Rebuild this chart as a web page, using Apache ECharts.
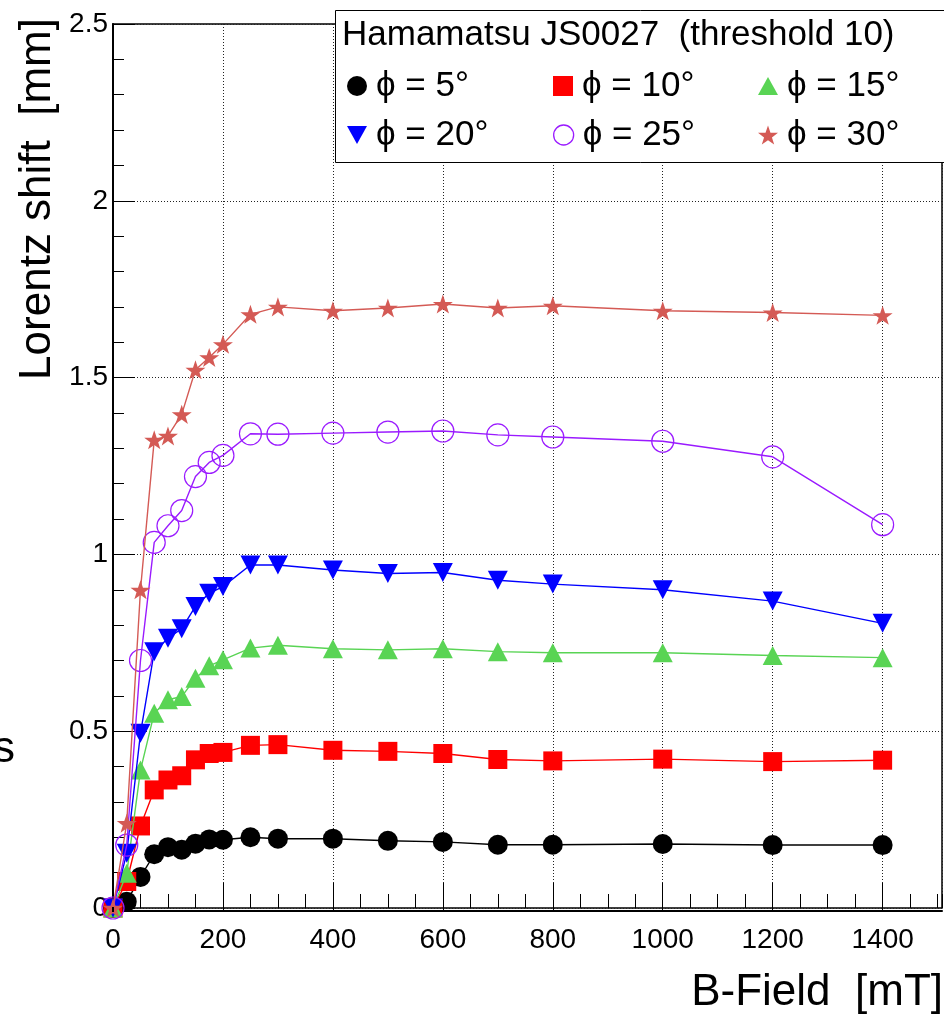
<!DOCTYPE html>
<html><head><meta charset="utf-8">
<script src="https://cdn.jsdelivr.net/npm/echarts@6/dist/echarts.min.js"></script>
<style>html,body{margin:0;padding:0;background:#fff}#c{width:944px;height:1015px}</style>
</head><body><div id="c"></div>
<script>
// B-Field [mT]
const bField = [0, 25, 50, 75, 100, 125, 150, 175, 200, 250, 300, 400, 500, 600, 700, 800, 1000, 1200, 1400];
// Lorentz shift [mm] for each angle
const phi5  = [0, 0.018, 0.088, 0.152, 0.172, 0.165, 0.182, 0.194, 0.193, 0.200, 0.196, 0.196, 0.190, 0.187, 0.179, 0.179, 0.181, 0.178, 0.178];
const phi10 = [0, 0.075, 0.232, 0.334, 0.362, 0.374, 0.419, 0.437, 0.440, 0.460, 0.462, 0.446, 0.443, 0.437, 0.420, 0.416, 0.421, 0.414, 0.418];
const phi15 = [0, 0.098, 0.390, 0.551, 0.589, 0.598, 0.650, 0.685, 0.702, 0.735, 0.743, 0.733, 0.730, 0.733, 0.725, 0.722, 0.722, 0.714, 0.708];
const phi20 = [0, 0.155, 0.494, 0.725, 0.763, 0.790, 0.853, 0.890, 0.909, 0.970, 0.970, 0.956, 0.946, 0.949, 0.927, 0.916, 0.900, 0.868, 0.805];
const phi25 = [0, 0.178, 0.700, 1.034, 1.081, 1.124, 1.220, 1.260, 1.280, 1.341, 1.340, 1.343, 1.346, 1.349, 1.338, 1.332, 1.320, 1.276, 1.084];
const phi30 = [0, 0.240, 0.900, 1.324, 1.335, 1.396, 1.522, 1.557, 1.594, 1.679, 1.700, 1.689, 1.697, 1.708, 1.697, 1.703, 1.689, 1.684, 1.676];
const seriesNames = ['\u03d5 = 5\u00b0', '\u03d5 = 10\u00b0', '\u03d5 = 15\u00b0', '\u03d5 = 20\u00b0', '\u03d5 = 25\u00b0', '\u03d5 = 30\u00b0'];
const titleText = 'Hamamatsu JS0027  (threshold 10)';
const xTitle = 'B-Field  [mT]';
const yTitle = 'Lorentz shift  [mm]';

const FONT = "'Liberation Sans', Arial, Helvetica, 'DejaVu Sans', sans-serif";
const STAR = 'path://M50,0 L61.8,35.1 L97.6,35.1 L68.8,56.7 L79.4,90.5 L50,69.8 L20.6,90.5 L31.2,56.7 L2.4,35.1 L38.2,35.1 Z';
const TDOWN = 'path://M0,0 L10,0 L5,9 Z';
const TUP = 'path://M5,0 L10,9 L0,9 Z';
const values = [phi5, phi10, phi15, phi20, phi25, phi30];
const colors = ['#000000', '#ff0000', '#59d454', '#0000ff', '#9a1aff', '#d45a55'];
const symbols = ['circle', 'rect', TUP, TDOWN, 'circle', STAR];
const sizes = [20, 19, [20, 19], [20, 19], 22, 20];

function pairs(v) { return bField.map((b, i) => [b, v[i]]); }

const series = values.map((v, k) => {
  const hollow = k === 4;
  return {
    name: seriesNames[k], type: 'line', data: pairs(v),
    xAxisIndex: 0, yAxisIndex: 0,
    symbol: symbols[k], symbolSize: sizes[k], symbolKeepAspect: k === 5,
    showSymbol: true, showAllSymbol: true,
    lineStyle: { color: colors[k], width: 1.4 },
    itemStyle: hollow ? { color: 'rgba(0,0,0,0)', borderColor: colors[k], borderWidth: 1.2 }
                      : { color: colors[k], borderWidth: 0 },
    emphasis: { disabled: true }, z: 2 + k * 0.01
  };
});

const legPos = [[347, 66], [553, 66], [758, 66], [347, 115], [553, 115], [758, 115]];
const legends = seriesNames.map((n, k) => ({
  left: legPos[k][0], top: legPos[k][1], padding: 0, z: 20,
  itemWidth: 20, itemHeight: 20, selectedMode: false,
  textStyle: { fontFamily: FONT, fontSize: 35, color: '#000', lineHeight: 40, padding: [0, 0, 0, 4] },
  data: [{ name: n, icon: symbols[k],
    itemStyle: k === 4 ? { color: '#fff', borderColor: colors[k], borderWidth: 1.3 } : { color: colors[k], borderWidth: 0 } }]
}));

const chart = echarts.init(document.getElementById('c'), null, { renderer: 'canvas' });
chart.setOption({
  animation: false,
  backgroundColor: '#fff',
  grid: { left: 113, right: 2, top: 24, bottom: 107, show: true, borderColor: '#000', borderWidth: 1.5, backgroundColor: 'transparent' },
  legend: legends,
  xAxis: [{
    type: 'value', min: 0, max: 1508, interval: 200, offset: 3,
    axisLine: { show: true, onZero: false, lineStyle: { color: '#000', width: 2 } },
    axisTick: { show: true, inside: true, length: 28, lineStyle: { color: '#000', width: 1 } },
    axisLabel: { show: true, showMaxLabel: false, margin: 15, color: '#000', fontFamily: FONT, fontSize: 28,
      formatter: v => String(v) },
    splitLine: { show: true, lineStyle: { color: '#222', width: 1, type: [1, 2] } }
  }, {
    type: 'value', min: 0, max: 1508, interval: 50, offset: 3, position: 'bottom',
    axisLine: { show: false },
    axisTick: { show: true, inside: true, length: 14, lineStyle: { color: '#000', width: 1 } },
    axisLabel: { show: false }, splitLine: { show: false }
  }],
  yAxis: [{
    type: 'value', min: 0, max: 2.5, interval: 0.5,
    axisLine: { show: true, onZero: false, lineStyle: { color: '#000', width: 2 } },
    axisTick: { show: true, inside: true, length: 22, lineStyle: { color: '#000', width: 1 } },
    minorTick: { show: true, splitNumber: 5, length: 11, lineStyle: { color: '#000', width: 1 } },
    axisLabel: { show: true, margin: 5, color: '#000', fontFamily: FONT, fontSize: 28, formatter: v => String(v) },
    splitLine: { show: true, lineStyle: { color: '#222', width: 1, type: [1, 2] } }
  }],
  graphic: [
    { type: 'rect', z: 10, shape: { x: 335.5, y: 10.5, width: 620, height: 152 },
      style: { fill: '#fff', stroke: '#000', lineWidth: 1 } },
    { type: 'text', z: 20, x: 342, y: 35,
      style: { text: titleText, font: '35px ' + FONT, fill: '#000', textAlign: 'left', textVerticalAlign: 'middle' } },
    { type: 'text', z: 20, x: 943, y: 993,
      style: { text: xTitle, font: '44px ' + FONT, fill: '#000', textAlign: 'right', textVerticalAlign: 'middle' } },
    { type: 'text', z: 20, x: 38, y: 18, rotation: Math.PI / 2,
      style: { text: yTitle, font: '44px ' + FONT, fill: '#000', textAlign: 'right', textVerticalAlign: 'middle' } },
    { type: 'text', z: 20, x: 15, y: 750,
      style: { text: 's', font: '44px ' + FONT, fill: '#000', textAlign: 'right', textVerticalAlign: 'middle' } },
    { type: 'line', z: 5, shape: { x1: 113, y1: 907, x2: 113, y2: 912 }, style: { stroke: '#000', lineWidth: 2 } }
  ],
  series: series
});
</script>
</body></html>
